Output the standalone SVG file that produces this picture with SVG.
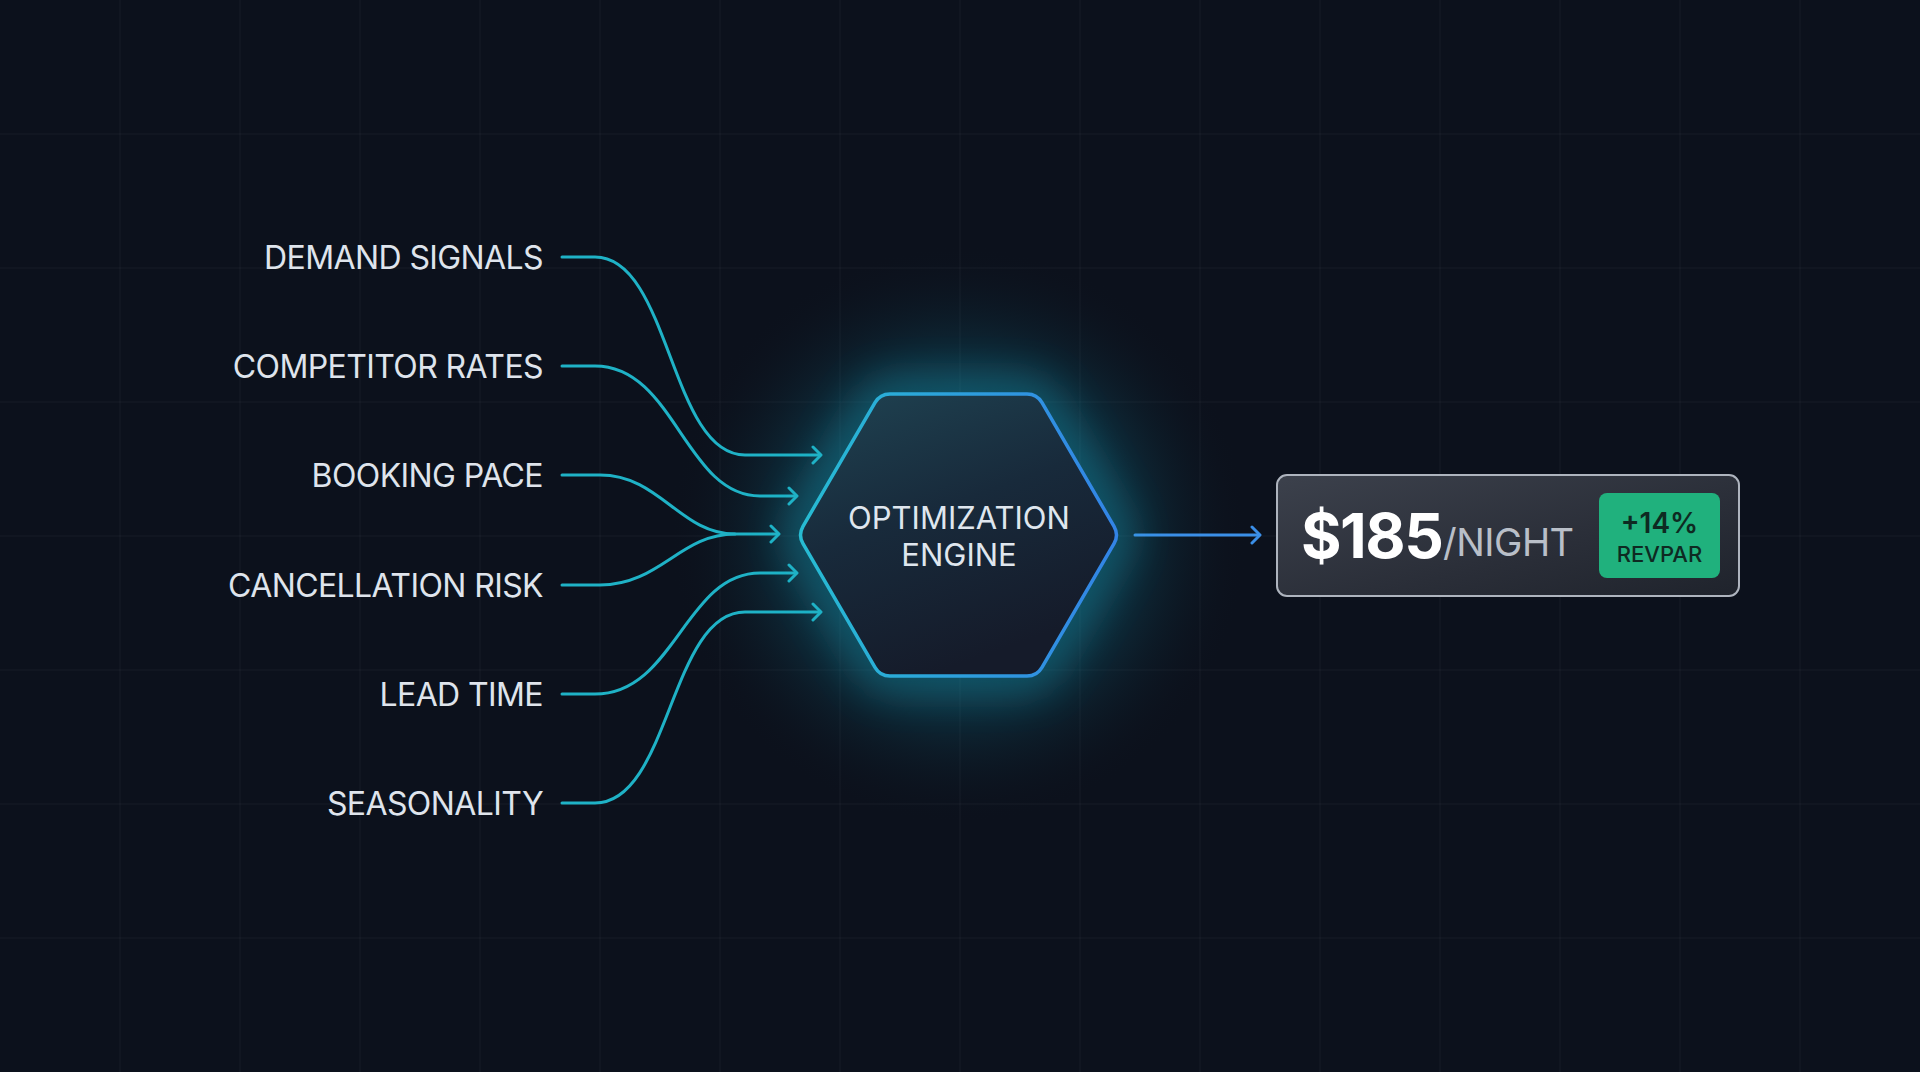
<svg xmlns="http://www.w3.org/2000/svg" width="1920" height="1072" viewBox="0 0 1920 1072">
<defs>
<style>
.lbl{font-family:Inter,"Liberation Sans",sans-serif;font-size:32px;font-weight:400;fill:#dfe4ec;text-anchor:end;letter-spacing:-0.6px}
.conn{fill:none;stroke:#1fb2c6;stroke-width:3;stroke-linecap:round;stroke-linejoin:round}
.grid line{stroke:#ffffff;stroke-opacity:0.05;stroke-width:1}
.eng{font-family:Inter,"Liberation Sans",sans-serif;font-size:31px;font-weight:400;fill:#dfe6ee;text-anchor:middle}
</style>
<marker id="arrC" markerUnits="userSpaceOnUse" markerWidth="20" markerHeight="20" refX="10" refY="10" orient="auto" viewBox="0 0 20 20">
<path d="M3,2 L11,10 L3,18" fill="none" stroke="#1fb2c6" stroke-width="3" stroke-linecap="round" stroke-linejoin="round"/>
</marker>
<marker id="arrB" markerUnits="userSpaceOnUse" markerWidth="20" markerHeight="20" refX="10" refY="10" orient="auto" viewBox="0 0 20 20">
<path d="M3,2 L11,10 L3,18" fill="none" stroke="#3b8fe8" stroke-width="3" stroke-linecap="round" stroke-linejoin="round"/>
</marker>
<radialGradient id="glow" cx="959" cy="535" r="290" gradientUnits="userSpaceOnUse">
<stop offset="0" stop-color="#1aa6c4" stop-opacity="0.55"/>
<stop offset="0.5" stop-color="#1592b0" stop-opacity="0.3"/>
<stop offset="0.75" stop-color="#117890" stop-opacity="0.1"/>
<stop offset="1" stop-color="#0c111c" stop-opacity="0"/>
</radialGradient>
<linearGradient id="hexStroke" x1="798" y1="0" x2="1119" y2="0" gradientUnits="userSpaceOnUse">
<stop offset="0" stop-color="#27bcd2"/>
<stop offset="1" stop-color="#3383e6"/>
</linearGradient>
<linearGradient id="hexFill" x1="0" y1="0" x2="0.4" y2="1">
<stop offset="0" stop-color="#1f4352"/>
<stop offset="0.5" stop-color="#182a3b"/>
<stop offset="1" stop-color="#151b2a"/>
</linearGradient>
<linearGradient id="cardFill" x1="0" y1="0" x2="1" y2="1">
<stop offset="0" stop-color="#3c414c"/>
<stop offset="0.6" stop-color="#2a2e38"/>
<stop offset="1" stop-color="#1f232c"/>
</linearGradient>
<filter id="blur" x="-50%" y="-50%" width="200%" height="200%">
<feGaussianBlur stdDeviation="22"/>
</filter>
</defs>
<rect width="1920" height="1072" fill="#0c111c"/>
<g class="grid">
<line x1="120" y1="0" x2="120" y2="1072"/><line x1="240" y1="0" x2="240" y2="1072"/><line x1="360" y1="0" x2="360" y2="1072"/><line x1="480" y1="0" x2="480" y2="1072"/><line x1="600" y1="0" x2="600" y2="1072"/><line x1="720" y1="0" x2="720" y2="1072"/><line x1="840" y1="0" x2="840" y2="1072"/><line x1="960" y1="0" x2="960" y2="1072"/><line x1="1080" y1="0" x2="1080" y2="1072"/><line x1="1200" y1="0" x2="1200" y2="1072"/><line x1="1320" y1="0" x2="1320" y2="1072"/><line x1="1440" y1="0" x2="1440" y2="1072"/><line x1="1560" y1="0" x2="1560" y2="1072"/><line x1="1680" y1="0" x2="1680" y2="1072"/><line x1="1800" y1="0" x2="1800" y2="1072"/>
<line x1="0" y1="134" x2="1920" y2="134"/><line x1="0" y1="268" x2="1920" y2="268"/><line x1="0" y1="402" x2="1920" y2="402"/><line x1="0" y1="536" x2="1920" y2="536"/><line x1="0" y1="670" x2="1920" y2="670"/><line x1="0" y1="804" x2="1920" y2="804"/><line x1="0" y1="938" x2="1920" y2="938"/>
</g>
<circle cx="959" cy="535" r="290" fill="url(#glow)"/>
<g id="connectors">
<path class="conn" d="M562,257 H595 C670,257 670,455 745,455 H820" marker-end="url(#arrC)"/>
<path class="conn" d="M562,366 H595 C675,366 685,496 760,496 H796" marker-end="url(#arrC)"/>
<path class="conn" d="M562,475 H600 C660,475 680,534 735,534 H778" marker-end="url(#arrC)"/>
<path class="conn" d="M562,585 H600 C660,585 680,534 735,534"/>
<path class="conn" d="M562,694 H595 C675,694 685,573 760,573 H796" marker-end="url(#arrC)"/>
<path class="conn" d="M562,803 H595 C670,803 670,612 745,612 H820" marker-end="url(#arrC)"/>
<path d="M1135,535 H1259" fill="none" stroke="#3b8fe8" stroke-width="3" stroke-linecap="round" marker-end="url(#arrB)"/>
</g>
<g id="n-demand"><text class="lbl" x="543" y="269">DEMAND SIGNALS</text></g>
<g id="n-competitor"><text class="lbl" x="543" y="378">COMPETITOR RATES</text></g>
<g id="n-booking"><text class="lbl" x="543" y="487">BOOKING PACE</text></g>
<g id="n-cancellation"><text class="lbl" x="543" y="597">CANCELLATION RISK</text></g>
<g id="n-lead"><text class="lbl" x="543" y="706">LEAD TIME</text></g>
<g id="n-season"><text class="lbl" x="543" y="815">SEASONALITY</text></g>
<g id="n-engine">
<path d="M890,394 H1027 Q1037,394 1042,402.7 L1114,526.3 Q1119,535 1114,543.7 L1042,667.3 Q1037,676 1027,676 H890 Q880,676 875,667.3 L803,543.7 Q798,535 803,526.3 L875,402.7 Q880,394 890,394 Z" fill="none" stroke="#1fb0c8" stroke-width="24" opacity="0.45" filter="url(#blur)"/>
<path d="M890,394 H1027 Q1037,394 1042,402.7 L1114,526.3 Q1119,535 1114,543.7 L1042,667.3 Q1037,676 1027,676 H890 Q880,676 875,667.3 L803,543.7 Q798,535 803,526.3 L875,402.7 Q880,394 890,394 Z" fill="url(#hexFill)" stroke="url(#hexStroke)" stroke-width="3.5"/>
<text class="eng" x="959" y="529">OPTIMIZATION</text>
<text class="eng" x="959" y="566">ENGINE</text>
</g>
<g id="n-result">
<rect x="1277" y="475" width="462" height="121" rx="10" fill="url(#cardFill)" stroke="#aeb4be" stroke-width="2"/>
<text x="1301" y="558" font-family="Inter,'Liberation Sans',sans-serif" font-size="62" font-weight="700" fill="#ffffff" letter-spacing="-1.5">$185</text>
<text x="1443" y="556" font-family="Inter,'Liberation Sans',sans-serif" font-size="38" font-weight="400" fill="#b9bfc8" letter-spacing="-0.5">/NIGHT</text>
<rect x="1599" y="493" width="121" height="85" rx="8" fill="#20b17d"/>
<text x="1659.5" y="533" text-anchor="middle" font-family="Inter,'Liberation Sans',sans-serif" font-size="28" font-weight="600" fill="#0e2a22">+14%</text>
<text x="1659.5" y="562" text-anchor="middle" font-family="Inter,'Liberation Sans',sans-serif" font-size="22" font-weight="500" fill="#0e2a22">REVPAR</text>
</g>
</svg>
